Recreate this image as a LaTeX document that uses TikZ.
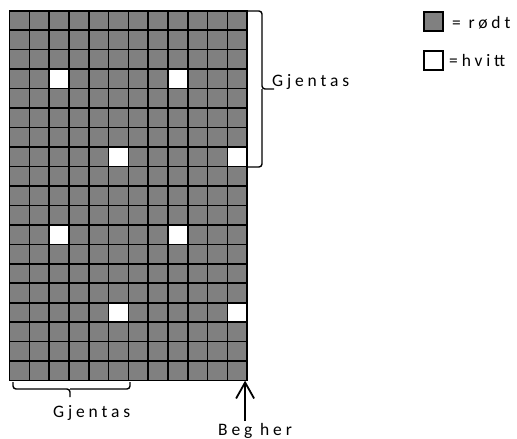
\documentclass[tikz,border=0pt]{standalone}
\usepackage{fontspec}
\newfontfamily\spacedfont{Carlito}[LetterSpace=22]
\usetikzlibrary{arrows.meta}

\begin{document}
\begin{tikzpicture}[
    x=1pt, y=-1pt,
    font=\spacedfont\fontsize{17.5}{20}\selectfont,
    >={Straight Barb[length=16pt,width=18pt]},
    % --- styles ------------------------------------------------------
    cell/.style={
        draw, line width=1.6pt, fill=black!50, anchor=north west,
        minimum width=19.8pt, minimum height=19.47pt,
        inner sep=0pt, outer sep=0pt
    },
    keybox/.style={
        draw, line width=2pt, minimum size=19pt, inner sep=0pt
    },
    label/.style={anchor=base west, inner sep=0pt},
    brace/.style={line width=1.4pt, rounded corners=3pt},
    pointer/.style={->, line width=1.8pt}
]
\useasboundingbox (0,0) rectangle (517,439);

% --- the pattern: 19 rows, 12 columns ----------------------------
\foreach \r in {0,...,18}{
    \foreach \c in {0,...,11}{
        \node[cell] (c\r-\c) at ({9.5+\c*19.8},{10.7+\r*19.47}) {};
    }
}
% white cells
\foreach \r/\c in {3/2,3/8,7/5,7/11,11/2,11/8,15/5,15/11}{
    \node[cell, fill=white, anchor=center] (w\r-\c) at (c\r-\c.center) {};
}

% --- repeat brace, right -------------------------------------------
\draw[brace] (248,11) -| (262,89) -- (274,89);
\draw[brace] (262,89) |- (248,167);
\node[label] (repright) at (272,86) {Gjentas};

% --- repeat brace, bottom ------------------------------------------
\draw[brace] (13,382) |- (70,389) -- (70,397);
\draw[brace] (70,389) -| (130,382);
\node[label] (repbottom) at (53,417) {Gjentas};

% --- start marker ----------------------------------------------------
\node[label] (start) at (218,435) {Beg her};
\draw[pointer] ([xshift=-2pt]c18-11.south east |- 0,421) -- ([xshift=-2pt]c18-11.south east);

% --- legend ---------------------------------------------------------
\node[keybox, fill=black!50] (keyred) at (433.5,21.5) {};
\node[label] (txtred) at (452,28) {= rødt};
\node[keybox, fill=white] (keywhite) at (433.5,60.5) {};
\node[label] (txtwhite) at (449,66) {=hvitt};

\end{tikzpicture}
\end{document}
